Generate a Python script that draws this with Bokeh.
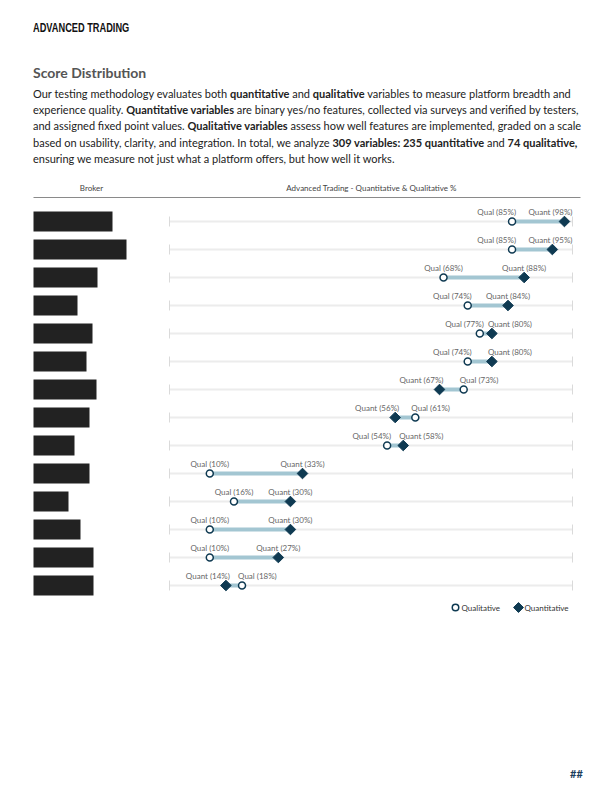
from bokeh.plotting import figure
from bokeh.models import Range1d, Div
from bokeh.layouts import column
from bokeh.embed import file_html
from bokeh.resources import INLINE
from bokeh.core.properties import value

# ---------------- data ----------------
qual = [85, 85, 68, 74, 77, 74, 73, 61, 54, 10, 16, 10, 10, 18]
quant = [98, 95, 88, 84, 80, 80, 67, 56, 58, 33, 30, 30, 27, 14]
# broker names are redacted in the reference (black boxes, width in px)
redact_px = [79, 93, 64, 44, 59, 53, 63, 56, 41, 56, 35, 47, 60, 60]

rows = list(range(len(qual)))

# ---------------- geometry ----------------
W, H_DIV, H_FIG = 596, 170, 606
PX = 4.03          # pixels per percent
X0_PAGE = 169      # page x of 0 %
ROW0 = 43          # screen y (in figure) of first row
ROWH = 28

def xp(page_x):
    return (page_x - X0_PAGE) / PX

def yp(page_y):
    return (page_y - 8 - H_DIV - ROW0) / ROWH

FONT = value("Lato")
NAVY = "#0f3a52"

p = figure(width=W, height=H_FIG,
           x_range=Range1d(xp(8), xp(8 + W)),
           y_range=Range1d(yp(8 + H_DIV + H_FIG), yp(8 + H_DIV)),
           output_backend="svg", toolbar_location=None,
           x_axis_location=None, y_axis_location=None,
           min_border=0, min_border_left=0, min_border_right=0,
           min_border_top=0, min_border_bottom=0)
p.grid.visible = False
p.outline_line_color = None
p.background_fill_color = "white"

# column headers
p.text(x=[xp(91)], y=[yp(187)], text=["Broker"], text_font=FONT, text_font_size="8px",
       text_color="#444", text_align="center", text_baseline="middle")
p.text(x=[xp(371)], y=[yp(187)], text=["Advanced Trading - Quantitative & Qualitative %"],
       text_font=FONT, text_font_size="8px", text_color="#444",
       text_align="center", text_baseline="middle")
p.segment(x0=[xp(33)], x1=[xp(580)], y0=[yp(197)], y1=[yp(197)],
          line_color="#8a8a8a", line_width=1)

# redaction boxes
half = 10 / ROWH
p.quad(left=[xp(33)] * len(rows), right=[xp(33 + w) for w in redact_px],
       bottom=[r - half for r in rows], top=[r + half for r in rows],
       fill_color="#222222", line_color=None)

# tracks
p.segment(x0=[0] * len(rows), x1=[100] * len(rows), y0=rows, y1=rows,
          line_color="#ececec", line_width=2)
tk = 5 / ROWH
for xv in (0, 100):
    p.segment(x0=[xv] * len(rows), x1=[xv] * len(rows),
              y0=[r - tk for r in rows], y1=[r + tk for r in rows],
              line_color="#dadada", line_width=1)

# dumbbell connectors
p.segment(x0=qual, x1=quant, y0=rows, y1=rows, line_color="#a3c6d2", line_width=4)

# markers
p.scatter(x=quant, y=rows, marker="square", angle=0.785398, size=7.5,
          fill_color=NAVY, line_color=NAVY, line_width=1)
p.scatter(x=qual, y=rows, marker="circle", size=7,
          fill_color="white", line_color=NAVY, line_width=1.5)

# labels with simple collision handling
QW, NW, GAP = 39, 44, 4
groups = {"center": ([], [], [], []), "left": ([], [], [], []), "right": ([], [], [], [])}

def add(align, x, y, t, off):
    g = groups[align]
    g[0].append(x); g[1].append(y); g[2].append(t); g[3].append(off)

for r, q, n in zip(rows, qual, quant):
    qt, nt = f"Qual ({q}%)", f"Quant ({n}%)"
    if q <= n:
        lv, lt, lw, rv, rt, rw = q, qt, QW, n, nt, NW
    else:
        lv, lt, lw, rv, rt, rw = n, nt, NW, q, qt, QW
    lc, rc = lv * PX, rv * PX
    if rc + rw / 2 > 100 * PX:
        r_align, r_x, r_off = "right", 100, 0
        r_left = 100 * PX - rw
        clamped = True
    else:
        r_align, r_x, r_off = "center", rv, 0
        r_left = rc - rw / 2
        clamped = False
    l_align, l_off = "center", 0
    l_right = lc + lw / 2
    if l_right > r_left - GAP:
        l_align, l_off = "right", GAP
        l_right = lc + GAP
        if l_right > r_left - GAP and not clamped:
            r_align, r_x, r_off = "left", rv, -GAP
    add(l_align, lv, r, lt, l_off)
    add(r_align, r_x, r, rt, r_off)

for align, (xs, ys, ts, offs) in groups.items():
    if xs:
        p.text(x=xs, y=ys, text=ts, x_offset=offs, y_offset=-10,
               text_font=FONT, text_font_size="8px", text_color="#666",
               text_align=align, text_baseline="middle")

# legend
ly = yp(607)
p.scatter(x=[xp(455)], y=[ly], marker="circle", size=6.5, fill_color="white",
          line_color=NAVY, line_width=1.5)
p.scatter(x=[xp(518)], y=[ly], marker="square", angle=0.785398, size=7,
          fill_color=NAVY, line_color=NAVY)
p.text(x=[xp(461), xp(524)], y=[ly, ly], text=["Qualitative", "Quantitative"],
       text_font=FONT, text_font_size="8px", text_color="#333",
       text_align="left", text_baseline="middle")

# page marker
p.text(x=[xp(576)], y=[yp(773)], text=["##"], text_font=FONT, text_font_size="11px",
       text_font_style="bold", text_color="#1b3d5c", text_align="center",
       text_baseline="middle")

para_lines = [
    'Our testing methodology evaluates both <b>quantitative</b> and <b>qualitative</b> variables to measure platform breadth and',
    'experience quality. <b>Quantitative variables</b> are binary yes/no features, collected via surveys and verified by testers,',
    'and assigned fixed point values. <b>Qualitative variables</b> assess how well features are implemented, graded on a scale',
    'based on usability, clarity, and integration. In total, we analyze <b>309 variables: 235 quantitative</b> and <b>74 qualitative,</b>',
    'ensuring we measure not just what a platform offers, but how well it works.',
]

html = (
    '<div style="position:relative;width:596px;height:170px;font-family:Lato,sans-serif;">'
    '<div style="position:absolute;left:25px;top:12px;font-family:\'Liberation Sans\',sans-serif;'
    'font-weight:bold;font-size:13px;line-height:15px;color:#111;white-space:nowrap;'
    'transform:scaleX(0.71);transform-origin:left center;">ADVANCED TRADING</div>'
    '<div style="position:absolute;left:25px;top:56px;font-weight:bold;font-size:14px;line-height:18px;color:#555;white-space:nowrap;">Score Distribution</div>'
    '<div style="position:absolute;left:25px;top:78px;font-size:11px;line-height:16.2px;color:#222;white-space:nowrap;">'
    + "<br>".join(para_lines) +
    '</div></div>'
)
div = Div(text=html, width=W, height=H_DIV, styles={"margin": "0", "padding": "0"})

layout = column(div, p, spacing=0, margin=(8, 8, 8, 8))
open("out.html", "w").write(file_html(layout, INLINE))
